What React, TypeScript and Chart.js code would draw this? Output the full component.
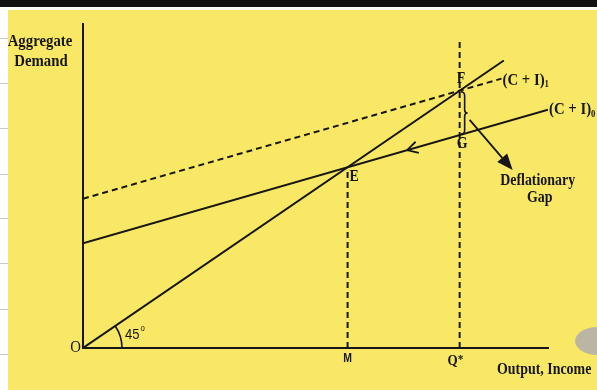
import React, { useEffect, useRef } from "react";
import { Chart, registerables } from "chart.js";

Chart.register(...registerables);

// ---- data ----
const diagX = [0, 90.5];          // 45° line (AD = Y)
const diagY = [0, 90.5];
const ci0X = [0, 100];            // (C + I)0
const ci0Y = [33, 75];
const ci1X = [0, 90];             // (C + I)1 (dashed)
const ci1Y = [47, 84.8];
const mX = [56.9, 56.9];          // dashed drop from E to M
const mY = [0, 56.9];
const qX = [81, 81];              // dashed full-employment line Q*
const qY = [0, 96.3];
const pointNames = ["E", "F", "G"];
const pointX = [56.9, 81, 81];
const pointY = [56.9, 81, 67];
const xTickNames = ["O", "M", "Q"];
const xTickValues = [0, 56.9, 81];
const arrowOnCi0X = 69.7;
const yTitle = ["Aggregate", "Demand"];
const xTitle = "Output, Income";
const gapLabel = ["Deflationary", "Gap"];

const INK = "#161616";
const SERIF = "'Liberation Serif', 'Times New Roman', serif";
const SANS = "'Liberation Sans', Arial, sans-serif";
const SX = 0.87;

function txt(
  ctx: CanvasRenderingContext2D,
  s: string,
  x: number,
  y: number,
  size: number,
  align: CanvasTextAlign = "left",
  weight = "bold",
  family = SERIF
) {
  ctx.save();
  ctx.translate(x, y);
  ctx.scale(SX, 1);
  ctx.font = `${weight} ${size}px ${family}`;
  ctx.textAlign = align;
  ctx.textBaseline = "middle";
  ctx.fillStyle = INK;
  ctx.fillText(s, 0, 0);
  const w = ctx.measureText(s).width * SX;
  ctx.restore();
  return w;
}

const bgPlugin = {
  id: "bg",
  beforeDraw(chart: any) {
    const ctx = chart.ctx as CanvasRenderingContext2D;
    const w = chart.width, h = chart.height;
    ctx.save();
    ctx.fillStyle = "#ffffff";
    ctx.fillRect(0, 0, w, h);
    ctx.fillStyle = "#111111";
    ctx.fillRect(0, 0, w, 7);
    ctx.fillStyle = "#F9E866";
    ctx.fillRect(8, 10, w - 8, h - 10);
    ctx.strokeStyle = "#c9c9c9";
    ctx.lineWidth = 1;
    for (const gy of [38, 83, 128, 174, 218, 263, 309, 354]) {
      ctx.beginPath();
      ctx.moveTo(0, gy + 0.5);
      ctx.lineTo(8, gy + 0.5);
      ctx.stroke();
    }
    ctx.fillStyle = "#bab6a3";
    ctx.beginPath();
    ctx.ellipse(598, 341, 23, 14, 0, 0, Math.PI * 2);
    ctx.fill();
    ctx.restore();
  },
};

const annPlugin = {
  id: "ann",
  afterDatasetsDraw(chart: any) {
    const ctx = chart.ctx as CanvasRenderingContext2D;
    const xs = chart.scales.x, ys = chart.scales.y;
    const px = (v: number) => xs.getPixelForValue(v);
    const py = (v: number) => ys.getPixelForValue(v);
    const { left, right, bottom } = chart.chartArea;
    ctx.save();
    ctx.strokeStyle = INK;
    ctx.fillStyle = INK;

    // 45° arc
    const ox = px(0), oy = py(0);
    const ang = Math.atan2(oy - py(diagY[1]), px(diagX[1]) - ox);
    ctx.lineWidth = 1.6;
    ctx.beginPath();
    ctx.arc(ox, oy, 39, -ang, 0);
    ctx.stroke();
    const w45 = txt(ctx, "45", ox + 42, oy - 13, 15, "left", "normal", SANS);
    txt(ctx, "o", ox + 43 + w45, oy - 19, 9, "left", "normal", SANS);

    // chevron on (C+I)0
    const dx = px(ci0X[1]) - px(ci0X[0]);
    const dy = py(ci0Y[1]) - py(ci0Y[0]);
    const L = Math.hypot(dx, dy);
    const ux = dx / L, uy = dy / L;
    const slope = (ci0Y[1] - ci0Y[0]) / (ci0X[1] - ci0X[0]);
    const tx = px(arrowOnCi0X), ty = py(ci0Y[0] + slope * arrowOnCi0X);
    ctx.lineWidth = 1.8;
    for (const s of [1, -1]) {
      const a = s * 0.5;
      const rx = ux * Math.cos(a) - uy * Math.sin(a);
      const ry = ux * Math.sin(a) + uy * Math.cos(a);
      ctx.beginPath();
      ctx.moveTo(tx, ty);
      ctx.lineTo(tx + rx * 12, ty + ry * 12);
      ctx.stroke();
    }

    // brace between F and G
    const x0 = px(pointX[1]) + 5;
    const yTop = py(pointY[1]) + 1;
    const yBot = py(pointY[2]) - 1;
    const mid = (yTop + yBot) / 2;
    ctx.lineWidth = 1.6;
    ctx.beginPath();
    ctx.moveTo(x0 - 4, yTop);
    ctx.quadraticCurveTo(x0, yTop, x0, yTop + 4);
    ctx.lineTo(x0, mid - 3);
    ctx.quadraticCurveTo(x0, mid, x0 + 3, mid);
    ctx.quadraticCurveTo(x0, mid, x0, mid + 3);
    ctx.lineTo(x0, yBot - 4);
    ctx.quadraticCurveTo(x0, yBot, x0 - 4, yBot);
    ctx.stroke();

    // arrow to "Deflationary Gap"
    const sx0 = x0 + 5, sy0 = mid + 7;
    const ex = x0 + 48, ey = mid + 57;
    const adx = ex - sx0, ady = ey - sy0;
    const al = Math.hypot(adx, ady);
    const aux = adx / al, auy = ady / al;
    const headL = 16, headW = 6.5;
    ctx.lineWidth = 1.8;
    ctx.beginPath();
    ctx.moveTo(sx0, sy0);
    ctx.lineTo(ex - aux * headL, ey - auy * headL);
    ctx.stroke();
    ctx.beginPath();
    ctx.moveTo(ex, ey);
    ctx.lineTo(ex - aux * headL - auy * headW, ey - auy * headL + aux * headW);
    ctx.lineTo(ex - aux * headL + auy * headW, ey - auy * headL - aux * headW);
    ctx.closePath();
    ctx.fill();
    txt(ctx, gapLabel[0], x0 + 73, mid + 68, 16, "center");
    txt(ctx, gapLabel[1], x0 + 75, mid + 85, 16, "center");

    // point labels
    txt(ctx, pointNames[0], px(pointX[0]) + 2, py(pointY[0]) + 10, 16);
    txt(ctx, pointNames[1], px(pointX[1]) - 3, py(pointY[1]) - 12, 16);
    txt(ctx, pointNames[2], px(pointX[2]) - 3, py(pointY[2]) + 9, 16);

    // curve labels
    const c1x = px(ci1X[1]) + 1, c1y = py(ci1Y[1]) + 2;
    const w1 = txt(ctx, "(C + I)", c1x, c1y, 17);
    txt(ctx, "1", c1x + w1, c1y + 4, 10);
    const c0x = px(ci0X[1]) + 1, c0y = py(ci0Y[1]);
    const w0 = txt(ctx, "(C + I)", c0x, c0y, 17);
    txt(ctx, "0", c0x + w0, c0y + 5, 10);

    // x tick labels
    txt(ctx, xTickNames[0], px(xTickValues[0]) - 2, bottom, 17, "right", "normal");
    txt(ctx, xTickNames[1], px(xTickValues[1]), bottom + 11, 12, "center", "bold", SANS);
    txt(ctx, xTickNames[2], px(xTickValues[2]) - 7, bottom + 13, 15, "center");
    txt(ctx, "*", px(xTickValues[2]) - 2, bottom + 12, 13);

    // axis titles
    txt(ctx, xTitle, right - 51, bottom + 22, 16);
    txt(ctx, yTitle[0], left - 43, 42, 17, "center");
    txt(ctx, yTitle[1], left - 42, 62, 17, "center");
    ctx.restore();
  },
};

function pts(xs: number[], ys: number[]) {
  return xs.map((x, i) => ({ x, y: ys[i] }));
}

export default function App() {
  const ref = useRef<HTMLCanvasElement | null>(null);
  useEffect(() => {
    if (!ref.current) return;
    const line = (data: any, dashed: boolean) => ({
      data,
      showLine: true,
      borderColor: INK,
      borderWidth: 2,
      borderDash: dashed ? [6, 4] : [],
      pointRadius: 0,
      fill: false,
      tension: 0,
    });
    const chart = new Chart(ref.current, {
      type: "scatter",
      data: {
        datasets: [
          line(pts(diagX, diagY), false),
          line(pts(ci0X, ci0Y), false),
          line(pts(ci1X, ci1Y), true),
          line(pts(mX, mY), true),
          line(pts(qX, qY), true),
        ],
      },
      options: {
        responsive: false,
        animation: false,
        events: [],
        layout: { padding: { left: 83, right: 49, top: 24, bottom: 42 } },
        plugins: { legend: { display: false }, tooltip: { enabled: false } },
        scales: {
          x: {
            type: "linear",
            min: 0,
            max: 100,
            grid: { display: false, drawTicks: false },
            ticks: { display: false },
            border: { display: true, color: INK, width: 2 },
          },
          y: {
            type: "linear",
            min: 0,
            max: 102,
            grid: { display: false, drawTicks: false },
            ticks: { display: false },
            border: { display: true, color: INK, width: 2 },
          },
        },
      },
      plugins: [bgPlugin, annPlugin],
    });
    return () => chart.destroy();
  }, []);
  return (
    <div style={{ position: "fixed", left: 0, top: 0, width: 597, height: 390 }}>
      <canvas ref={ref} width={597} height={390} style={{ display: "block", width: 597, height: 390 }} />
    </div>
  );
}
